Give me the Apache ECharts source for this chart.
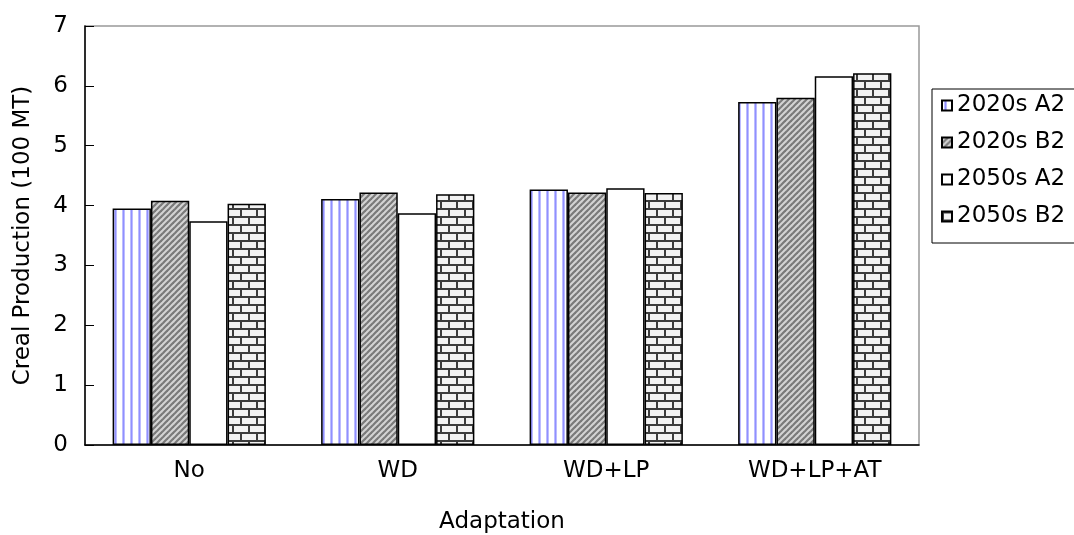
<!DOCTYPE html>
<html>
<head>
<meta charset="utf-8">
<script src="https://cdn.jsdelivr.net/npm/echarts@6/dist/echarts.min.js"></script>
<style>
html,body{margin:0;padding:0;background:#fff;}
#chart{width:1074px;height:535px;}
</style>
</head>
<body>
<div id="chart"></div>
<script>
const categories = ['No', 'WD', 'WD+LP', 'WD+LP+AT'];
const seriesNames = ['2020s A2', '2020s B2', '2050s A2', '2050s B2'];
const s2020A2 = [3.95, 4.11, 4.27, 5.73];
const s2020B2 = [4.08, 4.22, 4.22, 5.80];
const s2050A2 = [3.74, 3.87, 4.29, 6.16];
const s2050B2 = [4.03, 4.19, 4.21, 6.21];
const yTicks = [0, 1, 2, 3, 4, 5, 6, 7];

function makeCanvas(w, h, draw) {
  const c = document.createElement('canvas');
  c.width = w; c.height = h;
  const ctx = c.getContext('2d');
  draw(ctx, w, h);
  return c;
}
const vertPat = makeCanvas(8, 8, (ctx, w, h) => {
  ctx.fillStyle = '#ffffff'; ctx.fillRect(0, 0, w, h);
  ctx.fillStyle = '#bcbcff'; ctx.fillRect(2, 0, 3, h);
  ctx.fillStyle = '#9090ff'; ctx.fillRect(3, 0, 1, h);
});
const diagPat = makeCanvas(6, 6, (ctx, w, h) => {
  ctx.fillStyle = '#d4d4d4'; ctx.fillRect(0, 0, w, h);
  ctx.strokeStyle = '#7a7a7a'; ctx.lineWidth = 2.2;
  for (let k = -2; k <= 2; k++) {
    ctx.beginPath();
    ctx.moveTo(k * w - 1, h + 1);
    ctx.lineTo(k * w + w + 1, -1);
    ctx.stroke();
  }
});
const brickPat = makeCanvas(16, 16, (ctx, w, h) => {
  ctx.fillStyle = '#f2f2f2'; ctx.fillRect(0, 0, w, h);
  ctx.fillStyle = '#3c3c3c';
  ctx.fillRect(0, 0, w, 2);
  ctx.fillRect(0, 8, w, 2);
  ctx.fillRect(0, 0, 2, 8);
  ctx.fillRect(8, 8, 2, 8);
});

const fills = [
  {image: vertPat, repeat: 'repeat'},
  {image: diagPat, repeat: 'repeat'},
  '#ffffff',
  {image: brickPat, repeat: 'repeat'}
];
const dataSets = [s2020A2, s2020B2, s2050A2, s2050B2];
const FONT = 'DejaVu Sans';
const FS = 23;

const chart = echarts.init(document.getElementById('chart'), null, {renderer: 'canvas'});
chart.setOption({
  animation: false,
  backgroundColor: '#ffffff',
  textStyle: {fontFamily: FONT, color: '#000'},
  grid: {left: 85, right: 155, top: 26, bottom: 90, outerBoundsMode: 'none', containLabel: false,
    show: true, borderColor: '#999', borderWidth: 1.5, backgroundColor: 'transparent'},
  legend: {
    orient: 'vertical', left: 932, top: 89,
    icon: 'rect', itemWidth: 10, itemHeight: 10, itemGap: 14,
    padding: [5, 60, 15, 9],
    borderColor: '#000', borderWidth: 1,
    textStyle: {fontFamily: FONT, fontSize: FS, color: '#000'},
    data: seriesNames
  },
  xAxis: {
    type: 'category', data: categories,
    name: 'Adaptation', nameLocation: 'middle', nameGap: 66,
    nameTextStyle: {fontFamily: FONT, fontSize: FS, color: '#000'},
    axisLine: {lineStyle: {color: '#000', width: 1.5}},
    axisTick: {inside: true, length: 8, lineStyle: {color: '#000'}},
    axisLabel: {fontFamily: FONT, fontSize: FS, color: '#000', margin: 15},
    splitLine: {show: false}
  },
  yAxis: {
    type: 'value', min: 0, max: 7, interval: 1,
    name: 'Creal Production (100 MT)', nameLocation: 'middle', nameGap: 50,
    nameTextStyle: {fontFamily: FONT, fontSize: FS, color: '#000'},
    axisLine: {show: true, lineStyle: {color: '#000', width: 1.5}},
    axisTick: {show: true, inside: true, length: 9, lineStyle: {color: '#000'}},
    axisLabel: {fontFamily: FONT, fontSize: FS, color: '#000', margin: 17,
      formatter: v => yTicks.includes(v) ? String(v) : ''},
    splitLine: {show: false}
  },
  series: seriesNames.map((n, i) => ({
    name: n, type: 'bar', data: dataSets[i],
    barGap: '0%', barCategoryGap: '26.5%',
    itemStyle: {color: fills[i], borderColor: '#000', borderWidth: 1.5},
    emphasis: {disabled: true}
  }))
});
</script>
</body>
</html>
